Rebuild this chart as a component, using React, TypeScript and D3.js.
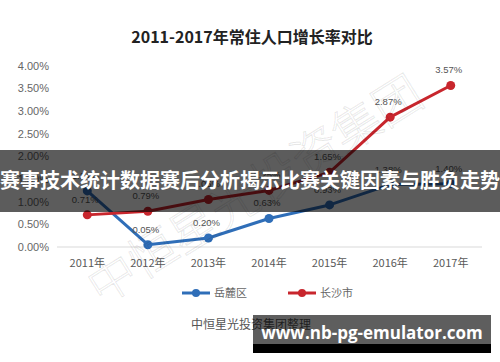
import React from "react";
import * as d3 from "d3";

const years = ["2011年", "2012年", "2013年", "2014年", "2015年", "2016年", "2017年"];
const yueluValues = [1.24, 0.05, 0.2, 0.63, 0.93, 1.38, 1.4];
const changshaValues = [0.71, 0.79, 1.05, 1.25, 1.65, 2.87, 3.57];
const yTicks = [0, 0.5, 1, 1.5, 2, 2.5, 3, 3.5, 4];
const seriesNames = ["岳麓区", "长沙市"];
const seriesColors = ["#2f6eb8", "#c8262d"];
const title = "2011-2017年常住人口增长率对比";
const sourceText = "中恒星光投资集团整理";
const watermark = "中恒星光投资集团";
const bannerText = "赛事技术统计数据赛后分析揭示比赛关键因素与胜负走势";
const urlText = "www.nb-pg-emulator.com";

const W = 500;
const H = 362;

export default function App() {
  const x = d3.scaleBand<string>().domain(years).range([57, 481]).padding(0);
  const y = d3.scaleLinear().domain([0, 4]).range([247, 66]);
  const cx = (d: string) => (x(d) as number) + x.bandwidth() / 2;
  const fmt = (v: number) => d3.format(".2f")(v) + "%";
  const line = d3
    .line<number>()
    .x((_, i) => cx(years[i]))
    .y((v) => y(v));
  const series = [yueluValues, changshaValues];
  const cjk = "'Noto Sans CJK SC', 'Noto Sans', sans-serif";
  const lat = "'Liberation Sans', Arial, sans-serif";

  return (
    <svg
      width={W}
      height={H}
      style={{ position: "absolute", left: 0, top: 0, background: "#fff" }}
    >
      <rect x={0} y={0} width={W} height={H} fill="#fff" />
      <text
        x={252}
        y={43}
        textAnchor="middle"
        fontFamily={cjk}
        fontWeight="bold"
        fontSize={16}
        fill="#222"
      >
        {title}
      </text>
      {yTicks.map((t) => (
        <text
          key={t}
          x={49}
          y={y(t)}
          dy="0.35em"
          textAnchor="end"
          fontFamily={lat}
          fontSize={11}
          fill="#666"
        >
          {fmt(t)}
        </text>
      ))}
      <line x1={57} x2={482} y1={y(0)} y2={y(0)} stroke="#d9d9d9" strokeWidth={1} />
      {years.map((yr) => (
        <text
          key={yr}
          x={cx(yr)}
          y={263}
          dy="0.35em"
          textAnchor="middle"
          fontFamily={cjk}
          fontSize={11}
          fill="#595959"
        >
          {yr}
        </text>
      ))}
      {series.map((vals, si) => (
        <g key={si}>
          <path
            d={line(vals) || ""}
            fill="none"
            stroke={seriesColors[si]}
            strokeWidth={3}
            strokeLinejoin="round"
          />
          {vals.map((v, i) => (
            <circle key={i} cx={cx(years[i])} cy={y(v)} r={4.5} fill={seriesColors[si]} />
          ))}
          {vals.map((v, i) => (
            <text
              key={"l" + i}
              x={cx(years[i]) - 2}
              y={y(v) - 12}
              textAnchor="middle"
              fontFamily={lat}
              fontSize={9.5}
              fill="#555"
            >
              {fmt(v)}
            </text>
          ))}
        </g>
      ))}
      {/* legend */}
      {seriesNames.map((name, i) => {
        const lx = 182 + i * 106;
        return (
          <g key={name}>
            <line x1={lx} x2={lx + 28} y1={293} y2={293} stroke={seriesColors[i]} strokeWidth={3} />
            <circle cx={lx + 14} cy={293} r={4} fill={seriesColors[i]} />
            <text x={lx + 32} y={293} dy="0.35em" fontFamily={cjk} fontSize={11} fill="#666">
              {name}
            </text>
          </g>
        );
      })}
      <text x={191} y={325} dy="0.35em" fontFamily={cjk} fontSize={12} fill="#555">
        {sourceText}
      </text>
      {/* watermark */}
      <text
        transform="translate(255,190) rotate(-32)"
        textAnchor="middle"
        dy="0.35em"
        fontFamily={cjk}
        fontSize={48}
        fontWeight={300}
        fill="none"
        stroke="#000"
        strokeOpacity={0.09}
        strokeWidth={1.2}
      >
        {watermark}
      </text>
      {/* banner */}
      <rect x={0} y={150} width={W} height={62} fill="#000" fillOpacity={0.64} />
      <text
        x={250}
        y={181}
        dy="0.36em"
        textAnchor="middle"
        fontFamily={cjk}
        fontWeight="bold"
        fontSize={20}
        fill="#fff"
      >
        {bannerText}
      </text>
      {/* url label */}
      <rect x={253} y={315} width={238} height={29} fill="#000" fillOpacity={0.63} />
      <rect x={253} y={344} width={238} height={9} fill="#000" />
      <text
        x={372}
        y={333}
        dy="0.36em"
        textAnchor="middle"
        fontFamily="'Open Sans', sans-serif"
        fontWeight="bold"
        fontSize={17}
        fill="#fff"
      >
        {urlText}
      </text>
    </svg>
  );
}
